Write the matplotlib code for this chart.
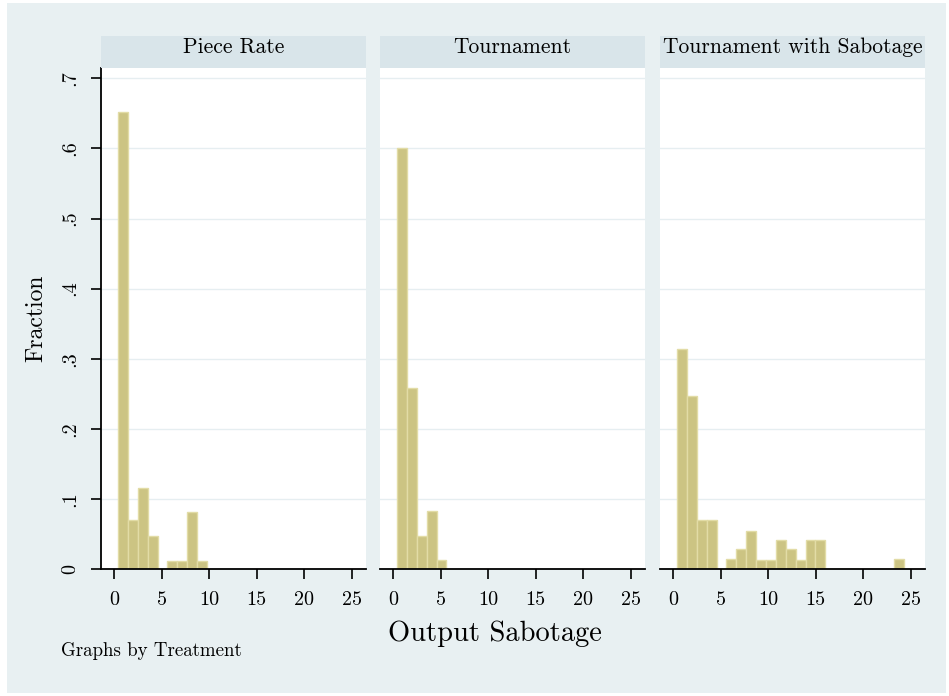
import numpy as np
import matplotlib
matplotlib.use("Agg")
import matplotlib.pyplot as plt
from matplotlib.patches import Rectangle

plt.rcParams['font.family'] = ['cmr10', 'DejaVu Serif']
plt.rcParams['axes.unicode_minus'] = False

# data: fraction per bin (common bins for all three treatments)
bin_start = 0.4
bin_width = 1.04
treatments = ["Piece Rate", "Tournament", "Tournament with Sabotage"]
piece_rate = [0.652, 0.070, 0.116, 0.047, 0, 0.012, 0.012, 0.081, 0.012]
tournament = [0.600, 0.258, 0.047, 0.083, 0.013]
tournament_sab = [0.314, 0.247, 0.0695, 0.0695, 0, 0.0138, 0.0285, 0.054,
                  0.0128, 0.0128, 0.041, 0.028, 0.0128, 0.041, 0.041,
                  0, 0, 0, 0, 0, 0, 0, 0.0138]
fractions = [piece_rate, tournament, tournament_sab]
x_ticks = [0, 5, 10, 15, 20, 25]
y_ticks = [0, 0.1, 0.2, 0.3, 0.4, 0.5, 0.6, 0.7]
y_tick_labels = ["0", ".1", ".2", ".3", ".4", ".5", ".6", ".7"]

W, H = 949, 696
fig = plt.figure(figsize=(W / 100, H / 100), dpi=100, facecolor="white")

# stata-like background
fig.patches.append(Rectangle((7 / W, 3 / H), 939 / W, 690 / H, transform=fig.transFigure,
                             facecolor="#e8f0f2", edgecolor="none", zorder=-10))

bar_color = "#ccc483"
edge_color = "#e2dca6"
panel_left = [101, 380, 660]
panel_w = 265
top, bottom, strip_top = 68, 569, 36


def px_rect(x0, y0, x1, y1):
    return [x0 / W, (H - y1) / H, (x1 - x0) / W, (y1 - y0) / H]


for i, (name, vals) in enumerate(zip(treatments, fractions)):
    ax = fig.add_axes(px_rect(panel_left[i], top, panel_left[i] + panel_w, bottom))
    ax.set_facecolor("white")
    lefts = bin_start + bin_width * np.arange(len(vals))
    ax.bar(lefts, vals, width=bin_width, align="edge", color=bar_color,
           edgecolor=edge_color, linewidth=1.0, zorder=3)
    ax.set_xlim(-1.4, 26.5)
    ax.set_ylim(0, 0.7147)
    ax.set_yticks(y_ticks)
    for y in y_ticks[1:]:
        ax.axhline(y, color="#e6eef1", lw=1.0, zorder=1)
    ax.set_xticks(x_ticks)
    ax.set_xticklabels([str(t) for t in x_ticks], fontsize=14.5)
    ax.tick_params(axis="x", length=7, width=1.2, pad=9, color="black")
    for s in ["top", "right"]:
        ax.spines[s].set_visible(False)
    ax.spines["bottom"].set_linewidth(1.3)
    ax.spines["bottom"].set_zorder(4)
    if i == 0:
        ax.set_yticklabels(y_tick_labels, fontsize=14.5, rotation=90, va="center")
        ax.tick_params(axis="y", length=7, width=1.2, pad=9)
        ax.spines["left"].set_linewidth(1.3)
        ax.set_ylabel("Fraction", fontsize=17, labelpad=10)
    else:
        ax.spines["left"].set_visible(False)
        ax.tick_params(axis="y", left=False, labelleft=False)

    strip = fig.add_axes(px_rect(panel_left[i], strip_top, panel_left[i] + panel_w, top))
    strip.set_facecolor("#d9e5ea")
    strip.set_xticks([])
    strip.set_yticks([])
    for s in strip.spines.values():
        s.set_visible(False)
    strip.text(0.5, 0.48, name, ha="center", va="baseline", fontsize=15.5,
               transform=strip.transAxes)

fig.text(495 / W, 1 - 634 / H, "Output Sabotage", ha="center", va="center", fontsize=20.5)
fig.text(61 / W, 1 - 651 / H, "Graphs by Treatment", ha="left", va="center", fontsize=13.6)

fig.savefig("out.png", dpi=100, facecolor="white")
